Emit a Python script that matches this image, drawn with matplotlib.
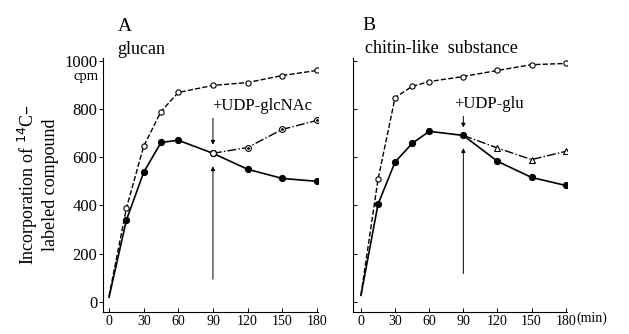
import matplotlib
matplotlib.use("Agg")
import matplotlib.pyplot as plt

plt.rcParams['font.family'] = ['Liberation Serif', 'DejaVu Serif']

# time points (min)
t_full = [0, 15, 30, 45, 60, 90, 120, 150, 180]
t_add = [90, 120, 150, 180]

# A: glucan
a_open = [25, 388, 645, 789, 868, 897, 909, 938, 959]
a_filled = [20, 339, 537, 661, 670, 616, 550, 512, 500]
a_added = [616, 640, 715, 752]

# B: chitin-like substance
b_open = [30, 508, 847, 893, 913, 934, 959, 983, 988]
b_filled = [28, 405, 580, 657, 707, 690, 583, 516, 483]
b_added = [690, 638, 590, 624]

xticks = [0, 30, 60, 90, 120, 150, 180]
yticks = [0, 200, 400, 600, 800, 1000]

fig = plt.figure(figsize=(6.29, 3.34), dpi=100)
axA = fig.add_axes([0.1638, 0.0659, 0.3418, 0.760])
axB = fig.add_axes([0.5612, 0.0659, 0.340, 0.760])

mk = dict(markevery=list(range(1, 9)))

def base(ax, xmin):
    ax.set_xlim(xmin, 181)
    ax.set_ylim(-41, 1010)
    for s in ['top', 'right']:
        ax.spines[s].set_visible(False)
    for s in ['left', 'bottom']:
        ax.spines[s].set_linewidth(0.8)
    ax.set_xticks(xticks)
    ax.set_yticks(yticks)
    ax.tick_params(axis='x', direction='in', length=3, width=0.7, labelsize=10, pad=2)

# panel A
base(axA, -5.2)
axA.tick_params(axis='y', direction='out', length=3, width=0.7, labelsize=12, pad=1)
axA.plot(t_full, a_open, 'k--', lw=1.0, marker='o', ms=3.8, mfc='white', mew=0.8, **mk)
axA.plot(t_full, a_filled, 'k-', lw=1.2, marker='o', ms=4.2, **mk)
axA.plot(t_add, a_added, 'k-.', lw=1.0, marker='o', ms=4.2, mfc='white', mew=0.8)
axA.plot(t_add[1:], a_added[1:], 'k.', ms=2)
axA.annotate('', xy=(90, 640), xytext=(90, 773),
             arrowprops=dict(arrowstyle='-|>', color='k', lw=0.7, mutation_scale=6))
axA.annotate('', xy=(90, 574), xytext=(90, 83),
             arrowprops=dict(arrowstyle='-|>', color='k', lw=0.7, mutation_scale=6))
axA.text(89, 810, '+UDP-glcNAc', fontsize=12, ha='left', va='center')
axA.text(7.5, 1140, 'A', fontsize=14, ha='left', va='center', clip_on=False)
axA.text(7, 1045, 'glucan', fontsize=13, ha='left', va='center', clip_on=False)
axA.text(-9, 935, 'cpm', fontsize=10.5, ha='right', va='center', clip_on=False)
axA.set_ylabel('Incorporation of $^{14}$C\u2013\nlabeled compound', fontsize=13,
               linespacing=1.1, labelpad=4)

# panel B
base(axB, -7.0)
axB.tick_params(axis='y', direction='in', length=3, width=0.7, labelleft=False)
axB.plot(t_full, b_open, 'k--', lw=1.0, marker='o', ms=3.8, mfc='white', mew=0.8, **mk)
axB.plot(t_full, b_filled, 'k-', lw=1.2, marker='o', ms=4.2, **mk)
axB.plot(t_add, b_added, 'k-.', lw=1.0, marker='^', ms=4.2, mfc='white', mew=0.8,
         markevery=[1, 2, 3])
axB.annotate('', xy=(90, 711), xytext=(90, 781),
             arrowprops=dict(arrowstyle='-|>', color='k', lw=0.7, mutation_scale=6))
axB.annotate('', xy=(90, 649), xytext=(90, 107),
             arrowprops=dict(arrowstyle='-|>', color='k', lw=0.7, mutation_scale=6))
axB.text(82, 820, '+UDP-glu', fontsize=12, ha='left', va='center')
axB.text(1, 1145, 'B', fontsize=14, ha='left', va='center', clip_on=False)
axB.text(3.5, 1050, 'chitin-like  substance', fontsize=13, ha='left', va='center', clip_on=False)
axB.text(189, -68, '(min)', fontsize=10, ha='left', va='center', clip_on=False)

fig.savefig('out.png', dpi=100)
